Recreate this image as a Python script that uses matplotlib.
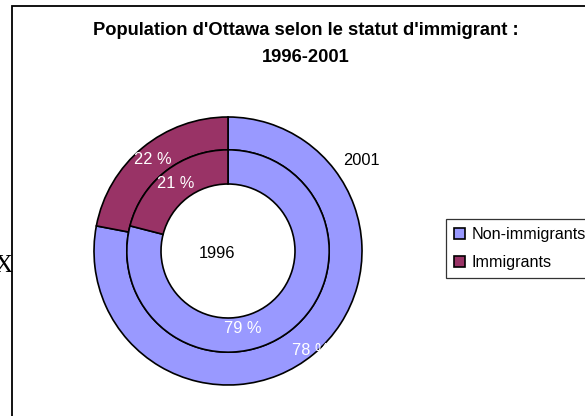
import matplotlib
matplotlib.use("Agg")
import matplotlib.pyplot as plt
from matplotlib.patches import Rectangle
import numpy as np

title = "Population d'Ottawa selon le statut d'immigrant :\n1996-2001"
categories = ["Non-immigrants", "Immigrants"]
values_1996 = [79, 21]
values_2001 = [78, 22]
ring_labels = ["1996", "2001"]
colors = ["#9999FF", "#993366"]

W, H = 585, 416
fig = plt.figure(figsize=(W / 100, H / 100), dpi=100)
fig.patch.set_facecolor("white")
plt.rcParams["font.family"] = ["Liberation Sans", "DejaVu Sans"]

# chart frame
fig.add_artist(Rectangle((12 / W, -0.05), 1.2, (H - 5.5) / H + 0.05, transform=fig.transFigure,
                         fill=False, edgecolor="black", linewidth=1.3))
fig.text(12.5 / W, 1 - 266 / H, "X", family="Liberation Serif", fontsize=18,
         ha="right", va="center", color="black")

fig.text(306 / W, 1 - 44 / H, title, ha="center", va="center", fontsize=13.2,
         fontweight="bold", linespacing=1.8)

cx, cy, R = 228, 251, 134
ax = fig.add_axes([(cx - R) / W, 1 - (cy + R) / H, 2 * R / W, 2 * R / H])
inner_r, mid_r, outer_r = 0.50, 0.755, 1.0

w_out, _ = ax.pie(values_2001, radius=outer_r, colors=colors, startangle=90, counterclock=False,
                  wedgeprops=dict(width=outer_r - mid_r, edgecolor="black", linewidth=1.2))
w_in, _ = ax.pie(values_1996, radius=mid_r, colors=colors, startangle=90, counterclock=False,
                 wedgeprops=dict(width=mid_r - inner_r, edgecolor="black", linewidth=1.2))
ax.set_xlim(-1, 1)
ax.set_ylim(-1, 1)
ax.set_aspect("equal")
ax.axis("off")

def mid_angle(vals, i):
    tot = sum(vals)
    start = 90 - 360 * sum(vals[:i]) / tot
    return start - 360 * vals[i] / tot / 2

# percentage labels (white)
lab_specs = [
    (values_2001, 1, 0.885, 0),
    (values_1996, 1, 0.634, 0),
    (values_1996, 0, 0.585, -27),
    (values_2001, 0, 0.965, 0),
]
for vals, i, r, dth in lab_specs:
    a = np.deg2rad(mid_angle(vals, i) + dth)
    ax.text(r * np.cos(a), r * np.sin(a), f"{vals[i]} %", color="white", fontsize=11.8,
            ha="center", va="center", clip_on=False)

ax.text((217 - cx) / R, -(253 - cy) / R, ring_labels[0], fontsize=11.8, ha="center", va="center")
ax.text((361 - cx) / R, -(160 - cy) / R, ring_labels[1], fontsize=11.8, ha="center", va="center",
        clip_on=False)

leg = fig.legend(w_out, categories, loc="upper left", bbox_to_anchor=(446 / W, 1 - 219 / H),
                 fontsize=11.6, frameon=True, fancybox=False, edgecolor="black",
                 handlelength=0.65, handleheight=0.65, handletextpad=0.45,
                 borderpad=0.5, labelspacing=0.8, borderaxespad=0)
leg.get_frame().set_linewidth(0.9)
for h in leg.legend_handles:
    h.set_linewidth(1.2)

fig.savefig("out.png", dpi=100)
